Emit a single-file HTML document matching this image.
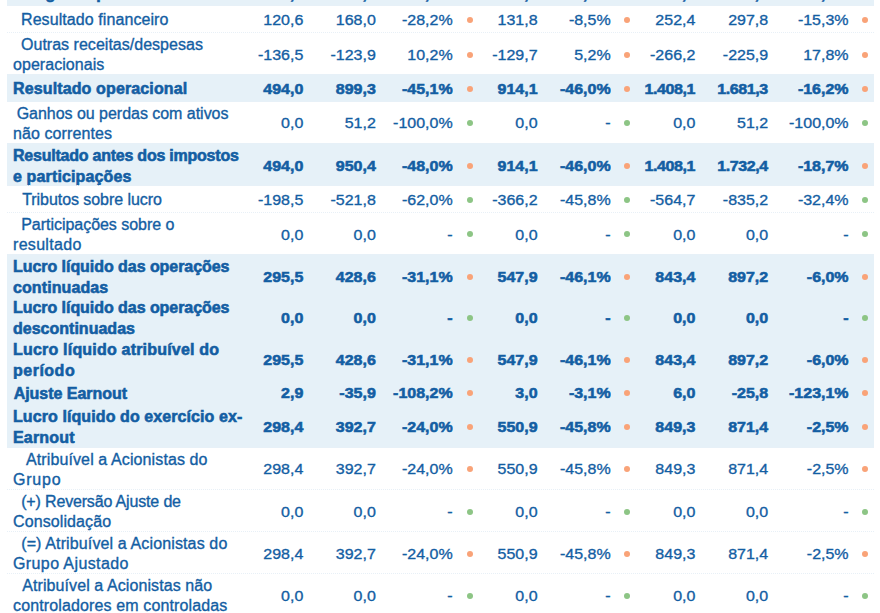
<!DOCTYPE html>
<html><head><meta charset="utf-8"><style>
html,body{margin:0;padding:0;background:#fff;width:880px;height:613px;overflow:hidden;position:relative}
body{font-family:"Liberation Sans",sans-serif;font-size:16px;color:#135ea3}
.r{position:absolute;left:7px;width:867px;border-top:1px dotted #e8f0f7;box-sizing:border-box}
.r{-webkit-text-stroke:0.35px #135ea3}
.r.b{background:#e6f1f8;font-weight:700;-webkit-text-stroke:0.6px #135ea3}
.lab{position:absolute;left:6px;top:3px;bottom:0;display:flex;align-items:center;white-space:pre}
.lab div{line-height:20.3px}
.n{transform:scaleY(0.93);position:absolute;top:3px;bottom:0;width:120px;display:flex;align-items:center;justify-content:flex-end;white-space:pre}
.d{position:absolute;width:6px;height:6px;border-radius:50%}
.o{background:#f9a378} .g{background:#8dc585}
</style></head><body>

<div class="r b" style="top:-22px;height:28px"><div class="lab" style="top:3px"><div><div style="letter-spacing:0.70px;padding-left:2.0px">Margem operacional</div></div></div><span class="n" style="top:2px;left:176.3px">00,0</span><span class="n" style="top:2px;left:248.8px">00,0</span><span class="n" style="top:2px;left:325.7px">00,0%</span><span class="n" style="top:2px;left:410.6px">00,0</span><span class="n" style="top:2px;left:483.7px">00,0%</span><span class="n" style="top:2px;left:568.4px">00,0</span><span class="n" style="top:2px;left:641.2px">00,0</span><span class="n" style="top:2px;left:721.6px">00,0%</span><i class="d o" style="left:460.2px;top:-2.0px"></i><i class="d o" style="left:617.3px;top:-2.0px"></i><i class="d o" style="left:855.4px;top:-2.0px"></i></div>
<div class="r" style="top:5px;height:27px"><div class="lab" style="top:3px"><div><div style="letter-spacing:0.08px;padding-left:8.0px">Resultado financeiro</div></div></div><span class="n" style="top:2px;left:176.3px">120,6</span><span class="n" style="top:2px;left:248.8px">168,0</span><span class="n" style="top:2px;left:325.7px">-28,2%</span><span class="n" style="top:2px;left:410.6px">131,8</span><span class="n" style="top:2px;left:483.7px">-8,5%</span><span class="n" style="top:2px;left:568.4px">252,4</span><span class="n" style="top:2px;left:641.2px">297,8</span><span class="n" style="top:2px;left:721.6px">-15,3%</span><i class="d o" style="left:460.2px;top:10.8px"></i><i class="d o" style="left:617.3px;top:10.8px"></i><i class="d o" style="left:855.4px;top:10.8px"></i></div>
<div class="r" style="top:32px;height:42px"><div class="lab" style="top:3px"><div><div style="letter-spacing:0.02px;padding-left:8.0px">Outras receitas/despesas</div><div style="letter-spacing:0.05px;padding-left:0.0px">operacionais</div></div></div><span class="n" style="top:3px;left:176.3px">-136,5</span><span class="n" style="top:3px;left:248.8px">-123,9</span><span class="n" style="top:3px;left:325.7px">10,2%</span><span class="n" style="top:3px;left:410.6px">-129,7</span><span class="n" style="top:3px;left:483.7px">5,2%</span><span class="n" style="top:3px;left:568.4px">-266,2</span><span class="n" style="top:3px;left:641.2px">-225,9</span><span class="n" style="top:3px;left:721.6px">17,8%</span><i class="d o" style="left:460.2px;top:18.8px"></i><i class="d o" style="left:617.3px;top:18.8px"></i><i class="d o" style="left:855.4px;top:18.8px"></i></div>
<div class="r b" style="top:74px;height:28px"><div class="lab" style="top:2px"><div><div style="letter-spacing:0.13px;padding-left:0.0px">Resultado operacional</div></div></div><span class="n" style="top:1px;left:176.3px">494,0</span><span class="n" style="top:1px;left:248.8px">899,3</span><span class="n" style="top:1px;left:325.7px">-45,1%</span><span class="n" style="top:1px;left:410.6px">914,1</span><span class="n" style="top:1px;left:483.7px">-46,0%</span><span class="n" style="top:1px;left:568.4px;letter-spacing:-0.4px;padding-right:0.4px;box-sizing:border-box">1.408,1</span><span class="n" style="top:1px;left:641.2px;letter-spacing:-0.4px;padding-right:0.4px;box-sizing:border-box">1.681,3</span><span class="n" style="top:1px;left:721.6px">-16,2%</span><i class="d o" style="left:460.2px;top:11.0px"></i><i class="d o" style="left:617.3px;top:11.0px"></i><i class="d o" style="left:855.4px;top:11.0px"></i></div>
<div class="r" style="top:101px;height:42px"><div class="lab" style="top:3px"><div><div style="letter-spacing:-0.03px;padding-left:3.7px">Ganhos ou perdas com ativos</div><div style="letter-spacing:0.09px;padding-left:0.0px">não correntes</div></div></div><span class="n" style="top:1px;left:176.3px">0,0</span><span class="n" style="top:1px;left:248.8px">51,2</span><span class="n" style="top:1px;left:325.7px">-100,0%</span><span class="n" style="top:1px;left:410.6px">0,0</span><span class="n" style="top:1px;left:483.7px">-</span><span class="n" style="top:1px;left:568.4px">0,0</span><span class="n" style="top:1px;left:641.2px">51,2</span><span class="n" style="top:1px;left:721.6px">-100,0%</span><i class="d g" style="left:460.2px;top:18.0px"></i><i class="d g" style="left:617.3px;top:18.0px"></i><i class="d g" style="left:855.4px;top:18.0px"></i></div>
<div class="r b" style="top:143px;height:43px"><div class="lab" style="top:3px"><div><div style="letter-spacing:-0.23px;padding-left:0.0px">Resultado antes dos impostos</div><div style="letter-spacing:0.14px;padding-left:0.0px">e participações</div></div></div><span class="n" style="top:2px;left:176.3px">494,0</span><span class="n" style="top:2px;left:248.8px">950,4</span><span class="n" style="top:2px;left:325.7px">-48,0%</span><span class="n" style="top:2px;left:410.6px">914,1</span><span class="n" style="top:2px;left:483.7px">-46,0%</span><span class="n" style="top:2px;left:568.4px;letter-spacing:-0.4px;padding-right:0.4px;box-sizing:border-box">1.408,1</span><span class="n" style="top:2px;left:641.2px;letter-spacing:-0.4px;padding-right:0.4px;box-sizing:border-box">1.732,4</span><span class="n" style="top:2px;left:721.6px">-18,7%</span><i class="d o" style="left:460.2px;top:18.8px"></i><i class="d o" style="left:617.3px;top:18.8px"></i><i class="d o" style="left:855.4px;top:18.8px"></i></div>
<div class="r" style="top:185px;height:27px"><div class="lab" style="top:3px"><div><div style="letter-spacing:-0.06px;padding-left:9.2px">Tributos sobre lucro</div></div></div><span class="n" style="top:2px;left:176.3px">-198,5</span><span class="n" style="top:2px;left:248.8px">-521,8</span><span class="n" style="top:2px;left:325.7px">-62,0%</span><span class="n" style="top:2px;left:410.6px">-366,2</span><span class="n" style="top:2px;left:483.7px">-45,8%</span><span class="n" style="top:2px;left:568.4px">-564,7</span><span class="n" style="top:2px;left:641.2px">-835,2</span><span class="n" style="top:2px;left:721.6px">-32,4%</span><i class="d g" style="left:460.2px;top:11.0px"></i><i class="d g" style="left:617.3px;top:11.0px"></i><i class="d g" style="left:855.4px;top:11.0px"></i></div>
<div class="r" style="top:212px;height:42px"><div class="lab" style="top:3px"><div><div style="letter-spacing:-0.03px;padding-left:8.2px">Participações sobre o</div><div style="letter-spacing:0.31px;padding-left:0.0px">resultado</div></div></div><span class="n" style="top:2px;left:176.3px">0,0</span><span class="n" style="top:2px;left:248.8px">0,0</span><span class="n" style="top:2px;left:325.7px">-</span><span class="n" style="top:2px;left:410.6px">0,0</span><span class="n" style="top:2px;left:483.7px">-</span><span class="n" style="top:2px;left:568.4px">0,0</span><span class="n" style="top:2px;left:641.2px">0,0</span><span class="n" style="top:2px;left:721.6px">-</span><i class="d g" style="left:460.2px;top:18.0px"></i><i class="d g" style="left:617.3px;top:18.0px"></i><i class="d g" style="left:855.4px;top:18.0px"></i></div>
<div class="r b" style="top:254px;height:43px"><div class="lab" style="top:3px"><div><div style="letter-spacing:-0.05px;padding-left:0.0px">Lucro líquido das operações</div><div style="letter-spacing:0.10px;padding-left:0.0px">continuadas</div></div></div><span class="n" style="top:2px;left:176.3px">295,5</span><span class="n" style="top:2px;left:248.8px">428,6</span><span class="n" style="top:2px;left:325.7px">-31,1%</span><span class="n" style="top:2px;left:410.6px">547,9</span><span class="n" style="top:2px;left:483.7px">-46,1%</span><span class="n" style="top:2px;left:568.4px">843,4</span><span class="n" style="top:2px;left:641.2px">897,2</span><span class="n" style="top:2px;left:721.6px">-6,0%</span><i class="d o" style="left:460.2px;top:19.0px"></i><i class="d o" style="left:617.3px;top:19.0px"></i><i class="d o" style="left:855.4px;top:19.0px"></i></div>
<div class="r b" style="top:296px;height:43px;border-top-color:transparent"><div class="lab" style="top:1.4px"><div><div style="letter-spacing:-0.05px;padding-left:0.0px">Lucro líquido das operações</div><div style="letter-spacing:0.01px;padding-left:0.0px">descontinuadas</div></div></div><span class="n" style="top:0px;left:176.3px">0,0</span><span class="n" style="top:0px;left:248.8px">0,0</span><span class="n" style="top:0px;left:325.7px">-</span><span class="n" style="top:0px;left:410.6px">0,0</span><span class="n" style="top:0px;left:483.7px">-</span><span class="n" style="top:0px;left:568.4px">0,0</span><span class="n" style="top:0px;left:641.2px">0,0</span><span class="n" style="top:0px;left:721.6px">-</span><i class="d g" style="left:460.2px;top:17.8px"></i><i class="d g" style="left:617.3px;top:17.8px"></i><i class="d g" style="left:855.4px;top:17.8px"></i></div>
<div class="r b" style="top:338px;height:42px;border-top-color:transparent"><div class="lab" style="top:2px"><div><div style="letter-spacing:0.20px;padding-left:0.0px">Lucro líquido atribuível do</div><div style="letter-spacing:0.50px;padding-left:0.0px">período</div></div></div><span class="n" style="top:1px;left:176.3px">295,5</span><span class="n" style="top:1px;left:248.8px">428,6</span><span class="n" style="top:1px;left:325.7px">-31,1%</span><span class="n" style="top:1px;left:410.6px">547,9</span><span class="n" style="top:1px;left:483.7px">-46,1%</span><span class="n" style="top:1px;left:568.4px">843,4</span><span class="n" style="top:1px;left:641.2px">897,2</span><span class="n" style="top:1px;left:721.6px">-6,0%</span><i class="d o" style="left:460.2px;top:18.0px"></i><i class="d o" style="left:617.3px;top:18.0px"></i><i class="d o" style="left:855.4px;top:18.0px"></i></div>
<div class="r b" style="top:379px;height:27px;border-top-color:transparent"><div class="lab" style="top:3px"><div><div style="letter-spacing:-0.04px;padding-left:0.7px">Ajuste Earnout</div></div></div><span class="n" style="top:0px;left:176.3px">2,9</span><span class="n" style="top:0px;left:248.8px">-35,9</span><span class="n" style="top:0px;left:325.7px">-108,2%</span><span class="n" style="top:0px;left:410.6px">3,0</span><span class="n" style="top:0px;left:483.7px">-3,1%</span><span class="n" style="top:0px;left:568.4px">6,0</span><span class="n" style="top:0px;left:641.2px">-25,8</span><span class="n" style="top:0px;left:721.6px">-123,1%</span><i class="d o" style="left:460.2px;top:10.0px"></i><i class="d o" style="left:617.3px;top:10.0px"></i><i class="d o" style="left:855.4px;top:10.0px"></i></div>
<div class="r b" style="top:405px;height:43px;border-top-color:transparent"><div class="lab" style="top:1.4px"><div><div style="letter-spacing:0.09px;padding-left:0.0px">Lucro líquido do exercício ex-</div><div style="letter-spacing:0.17px;padding-left:0.0px">Earnout</div></div></div><span class="n" style="top:0px;left:176.3px">298,4</span><span class="n" style="top:0px;left:248.8px">392,7</span><span class="n" style="top:0px;left:325.7px">-24,0%</span><span class="n" style="top:0px;left:410.6px">550,9</span><span class="n" style="top:0px;left:483.7px">-45,8%</span><span class="n" style="top:0px;left:568.4px">849,3</span><span class="n" style="top:0px;left:641.2px">871,4</span><span class="n" style="top:0px;left:721.6px">-2,5%</span><i class="d o" style="left:460.2px;top:18.0px"></i><i class="d o" style="left:617.3px;top:18.0px"></i><i class="d o" style="left:855.4px;top:18.0px"></i></div>
<div class="r" style="top:447px;height:42px"><div class="lab" style="top:3px"><div><div style="letter-spacing:0.11px;padding-left:13.0px">Atribuível a Acionistas do</div><div style="letter-spacing:0.78px;padding-left:0.0px">Grupo</div></div></div><span class="n" style="top:1px;left:176.3px">298,4</span><span class="n" style="top:1px;left:248.8px">392,7</span><span class="n" style="top:1px;left:325.7px">-24,0%</span><span class="n" style="top:1px;left:410.6px">550,9</span><span class="n" style="top:1px;left:483.7px">-45,8%</span><span class="n" style="top:1px;left:568.4px">849,3</span><span class="n" style="top:1px;left:641.2px">871,4</span><span class="n" style="top:1px;left:721.6px">-2,5%</span><i class="d o" style="left:460.2px;top:17.8px"></i><i class="d o" style="left:617.3px;top:17.8px"></i><i class="d o" style="left:855.4px;top:17.8px"></i></div>
<div class="r" style="top:489px;height:42px"><div class="lab" style="top:3px"><div><div style="letter-spacing:-0.16px;padding-left:8.2px">(+) Reversão Ajuste de</div><div style="letter-spacing:0.10px;padding-left:0.0px">Consolidação</div></div></div><span class="n" style="top:3px;left:176.3px">0,0</span><span class="n" style="top:3px;left:248.8px">0,0</span><span class="n" style="top:3px;left:325.7px">-</span><span class="n" style="top:3px;left:410.6px">0,0</span><span class="n" style="top:3px;left:483.7px">-</span><span class="n" style="top:3px;left:568.4px">0,0</span><span class="n" style="top:3px;left:641.2px">0,0</span><span class="n" style="top:3px;left:721.6px">-</span><i class="d g" style="left:460.2px;top:19.0px"></i><i class="d g" style="left:617.3px;top:19.0px"></i><i class="d g" style="left:855.4px;top:19.0px"></i></div>
<div class="r" style="top:531px;height:42px"><div class="lab" style="top:3px"><div><div style="letter-spacing:0.13px;padding-left:8.2px">(=) Atribuível a Acionistas do</div><div style="letter-spacing:0.39px;padding-left:0.0px">Grupo Ajustado</div></div></div><span class="n" style="top:3px;left:176.3px">298,4</span><span class="n" style="top:3px;left:248.8px">392,7</span><span class="n" style="top:3px;left:325.7px">-24,0%</span><span class="n" style="top:3px;left:410.6px">550,9</span><span class="n" style="top:3px;left:483.7px">-45,8%</span><span class="n" style="top:3px;left:568.4px">849,3</span><span class="n" style="top:3px;left:641.2px">871,4</span><span class="n" style="top:3px;left:721.6px">-2,5%</span><i class="d o" style="left:460.2px;top:18.7px"></i><i class="d o" style="left:617.3px;top:18.7px"></i><i class="d o" style="left:855.4px;top:18.7px"></i></div>
<div class="r" style="top:573px;height:42px"><div class="lab" style="top:3px"><div><div style="letter-spacing:0.09px;padding-left:9.2px">Atribuível a Acionistas não</div><div style="letter-spacing:0.13px;padding-left:0.0px">controladores em controladas</div></div></div><span class="n" style="top:3px;left:176.3px">0,0</span><span class="n" style="top:3px;left:248.8px">0,0</span><span class="n" style="top:3px;left:325.7px">-</span><span class="n" style="top:3px;left:410.6px">0,0</span><span class="n" style="top:3px;left:483.7px">-</span><span class="n" style="top:3px;left:568.4px">0,0</span><span class="n" style="top:3px;left:641.2px">0,0</span><span class="n" style="top:3px;left:721.6px">-</span><i class="d g" style="left:460.2px;top:18.8px"></i><i class="d g" style="left:617.3px;top:18.8px"></i><i class="d g" style="left:855.4px;top:18.8px"></i></div>
</body></html>
